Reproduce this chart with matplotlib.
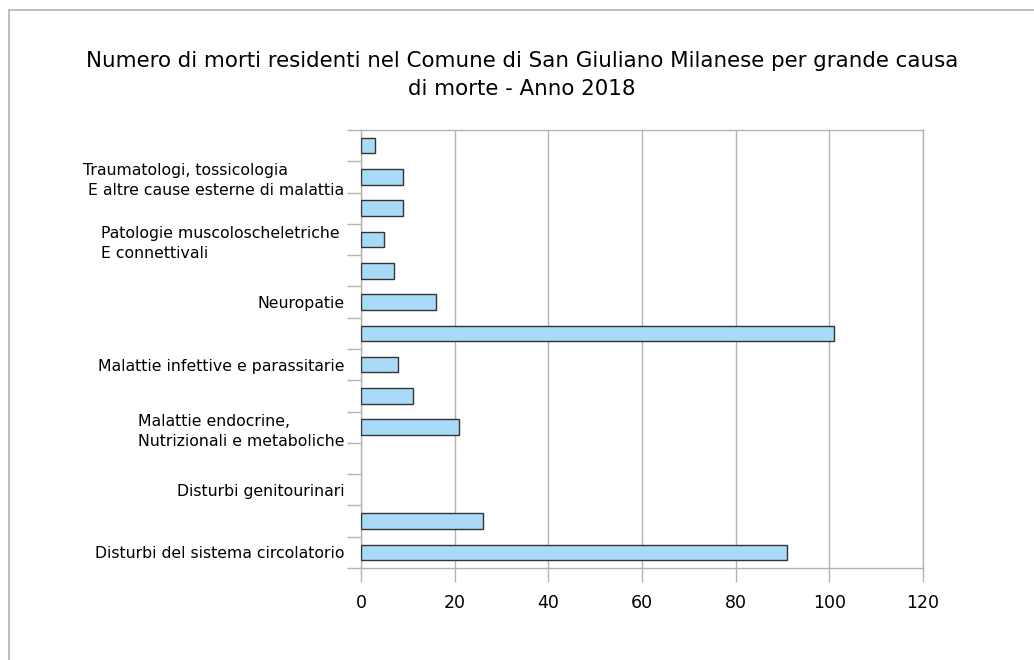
import matplotlib
matplotlib.use("Agg")
import matplotlib.pyplot as plt
from matplotlib.patches import Rectangle

# categories from bottom to top; the chart only labels every other one
categorie = [
    "Disturbi del sistema circolatorio",
    "",
    "Disturbi genitourinari",
    "",
    "Malattie endocrine,\nNutrizionali e metaboliche",
    "",
    "Malattie infettive e parassitarie",
    "",
    "Neuropatie",
    "",
    "Patologie muscoloscheletriche \nE connettivali",
    "",
    "Traumatologi, tossicologia\n E altre cause esterne di malattia",
    "",
]
morti = [91, 26, 0, 0, 21, 11, 8, 101, 16, 7, 5, 9, 9, 3]
x_ticks = [0, 20, 40, 60, 80, 100, 120]

titolo = ("Numero di morti residenti nel Comune di San Giuliano Milanese per grande causa\n"
          "di morte - Anno 2018")

grigio = "#b3b3b3"

fig = plt.figure(figsize=(10.34, 6.6), dpi=100)
fig.patch.set_facecolor("white")

# outer chart frame (runs off the right and bottom edges of the picture)
fig.patches.append(Rectangle((9 / 1034, -0.1), 1.2, 1 - 10 / 660 + 0.1,
                             transform=fig.transFigure, fill=False,
                             edgecolor=grigio, linewidth=1.2))

ax = fig.add_axes([361 / 1034, 1 - 568 / 660, (923 - 361) / 1034, (568 - 130) / 660])

pos = list(range(len(morti)))
# no outline for empty bars
bordi = [1.0 if v > 0 else 0 for v in morti]
ax.barh(pos, morti, height=0.5, color="#a9dbf8", edgecolor="#333333", linewidth=bordi, zorder=3)

ax.set_xlim(0, 120)
ax.set_ylim(-0.5, len(morti) - 0.5)
ax.set_xticks(x_ticks)
ax.set_xticklabels([str(v) for v in x_ticks], fontsize=12.5, color="black")
ax.grid(axis="x", color=grigio, linewidth=1.0, zorder=0)

ax.set_yticks(pos)
ax.set_yticklabels(categorie, fontsize=11.3, multialignment="left", linespacing=1.4)
ax.tick_params(axis="y", length=0, pad=12)
ax.set_yticks([p - 0.5 for p in range(len(morti) + 1)], minor=True)
ax.tick_params(axis="y", which="minor", length=10, color=grigio, width=1.0)
ax.tick_params(axis="x", length=10, color=grigio, width=1.0, pad=9)

for s in ax.spines.values():
    s.set_color(grigio)
    s.set_linewidth(1.0)

fig.text(522 / 1034, 1 - 75 / 660, titolo, ha="center", va="center",
         fontsize=15.4, linespacing=1.45)

fig.savefig("out.png", dpi=100, facecolor="white")
